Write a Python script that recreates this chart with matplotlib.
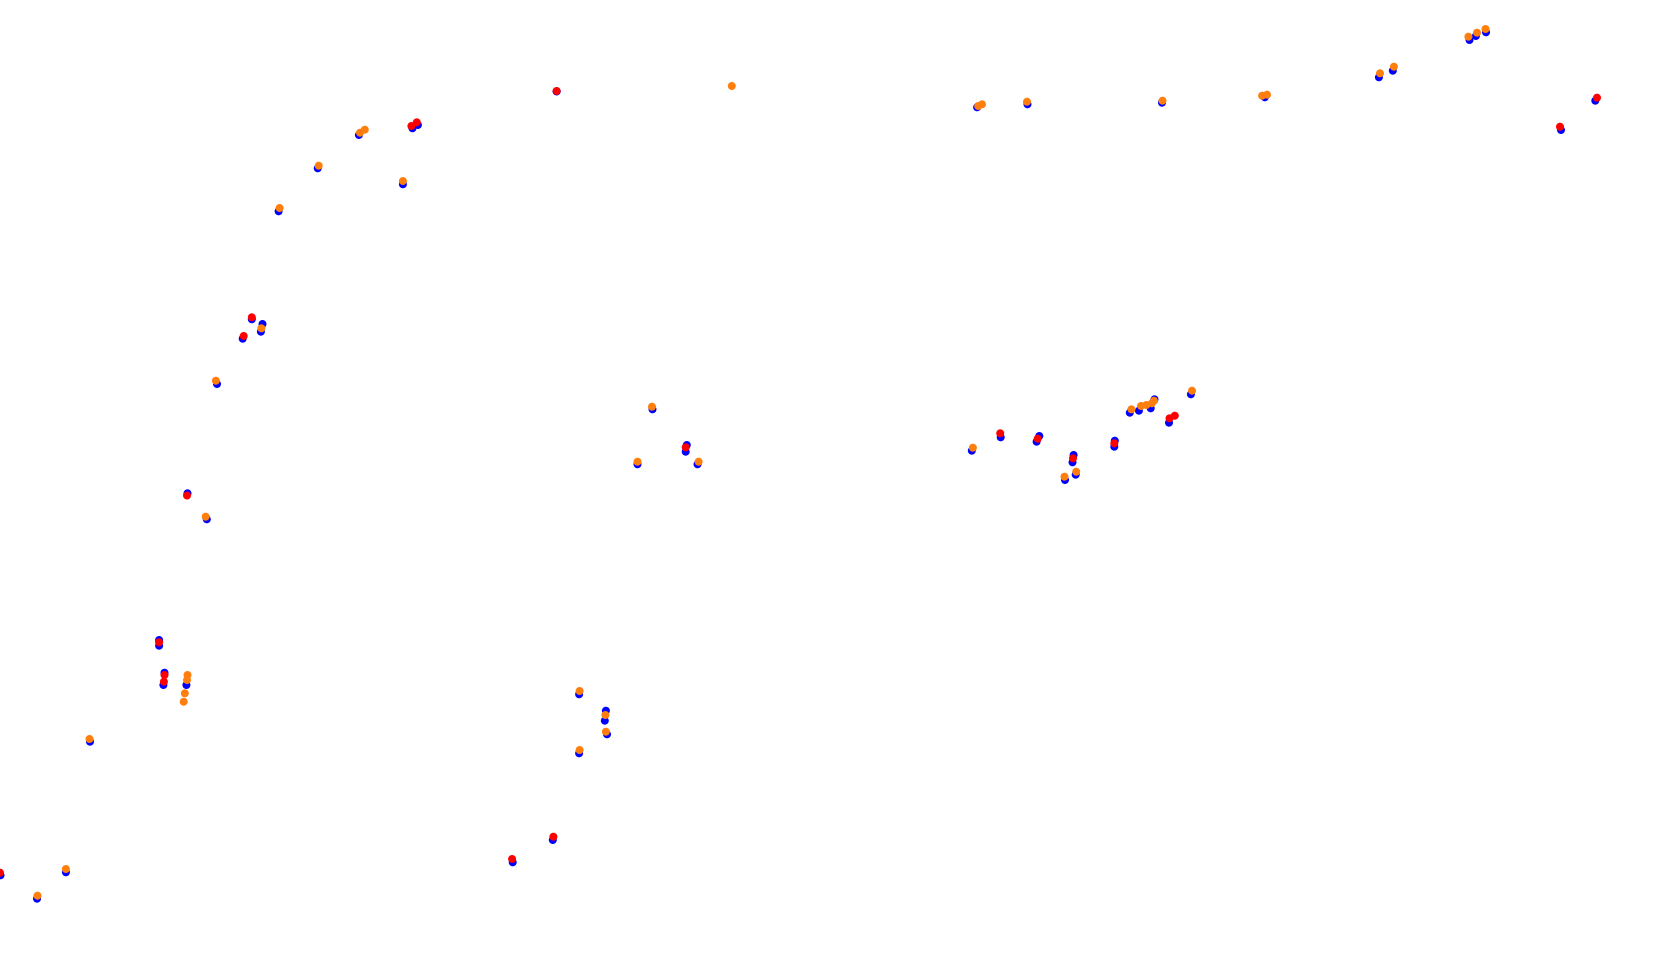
import matplotlib
matplotlib.use("Agg")
import matplotlib.pyplot as plt

blue_x = [556.6, 412.5, 417.9, 358.9, 317.7, 402.9, 278.6, 251.8, 262.5, 260.9, 242.7, 217.0,
          652.5, 686.8, 685.7, 637.5, 697.5, 187.5, 206.8, 159.1, 159.1, 164.5, 163.4, 186.4,
          90.0, 579.1, 605.9, 604.8, 607.0, 579.1, 552.8, 512.7, 0.5, 65.9, 37.0,
          977.1, 1027.5, 1162.0, 1264.8, 1378.9, 1392.8, 1469.5, 1475.9, 1486.0, 1595.3, 1561.0,
          1190.9, 1129.8, 1138.9, 1154.5, 1150.7, 1169.0, 1000.7, 1036.6, 1039.3, 971.8,
          1073.6, 1072.5, 1114.3, 1114.8, 1065.0, 1075.7]
blue_y = [91.5, 128.3, 125.0, 135.0, 168.3, 184.3, 211.3, 319.3, 324.0, 331.7, 338.7, 384.0,
          409.3, 445.0, 451.7, 464.3, 464.3, 493.3, 519.3, 640.0, 645.7, 672.7, 685.0, 685.0,
          741.7, 694.3, 710.7, 720.7, 734.3, 753.3, 840.0, 862.3, 875.3, 872.3, 898.7,
          107.3, 104.3, 102.7, 97.3, 77.3, 70.7, 40.0, 36.0, 32.3, 100.7, 130.0,
          394.3, 412.7, 410.7, 399.3, 408.3, 422.7, 437.3, 441.7, 436.0, 450.7,
          455.0, 462.3, 446.7, 440.7, 480.0, 474.7]

red_x = [556.6, 411.4, 416.8, 251.8, 243.7, 685.7, 187.0, 159.1, 164.5, 163.9, 553.4, 512.1, 0.0,
         1597.0, 1560.0, 1169.5, 1174.8, 1000.2, 1037.7, 1073.0, 1114.3]
red_y = [91.0, 126.0, 122.3, 317.3, 336.0, 447.3, 495.5, 642.3, 675.0, 681.7, 836.7, 859.0, 872.7,
         97.7, 126.7, 418.3, 415.7, 433.3, 438.7, 458.3, 443.3]

orange_x = [731.8, 360.0, 364.8, 318.7, 402.9, 279.6, 261.4, 215.9, 652.0, 637.5, 698.6,
            205.7, 187.5, 187.0, 184.8, 183.7, 89.5, 579.6, 605.4, 605.9, 579.6, 65.9, 37.5,
            978.2, 982.0, 1027.0, 1162.5, 1262.1, 1267.0, 1380.0, 1393.9, 1468.4, 1477.0, 1485.5,
            1192.0, 1131.4, 1141.0, 1146.4, 1151.8, 1154.0, 972.9, 1064.5, 1076.2]
orange_y = [86.0, 132.7, 129.7, 165.7, 181.0, 208.0, 328.3, 380.7, 406.7, 461.7, 461.7,
            516.7, 675.0, 680.0, 693.3, 701.7, 739.0, 691.0, 715.0, 731.7, 750.0, 869.0, 895.7,
            106.0, 104.3, 101.7, 100.7, 95.7, 94.7, 73.3, 66.7, 36.7, 32.7, 29.0,
            390.7, 409.3, 406.0, 405.0, 403.3, 400.7, 447.7, 476.7, 471.7]

fig = plt.figure(figsize=(16.8, 9.69), dpi=100)
ax = fig.add_axes([0, 0, 1, 1])
ax.scatter(blue_x, blue_y, s=33, c="#0000ff", edgecolors="none")
ax.scatter(red_x, red_y, s=33, c="#ff0000", edgecolors="none")
ax.scatter(orange_x, orange_y, s=33, c="#ff7f0e", edgecolors="none")
ax.set_xlim(0, 1680)
ax.set_ylim(969, 0)
ax.axis("off")
fig.savefig("out.png", dpi=100, facecolor="white")
